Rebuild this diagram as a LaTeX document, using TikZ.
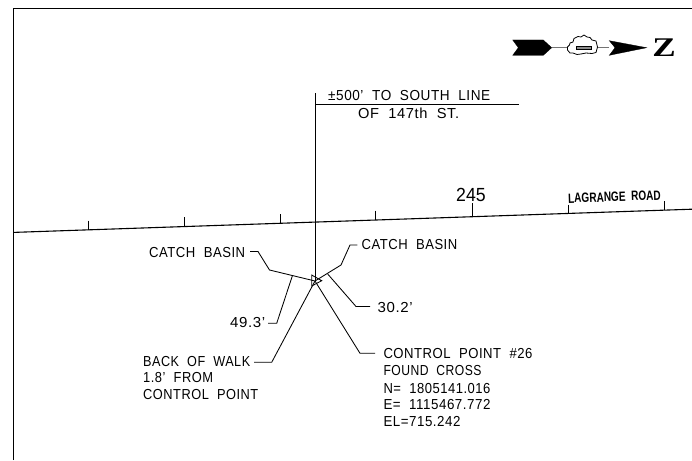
\documentclass[tikz,border=0pt]{standalone}
\usepackage{graphicx}
\usepackage{fontspec}
\setmainfont{Liberation Sans}[LetterSpace=4,WordSpace=2]
\newfontfamily\cadbold{Liberation Sans Bold}[WordSpace=2]
\newfontfamily\zfont{Liberation Serif Bold}
\newfontfamily\numfont{Liberation Sans}
\newcommand{\fitw}[2]{\resizebox{#1pt}{\height}{#2}}
\tikzset{
  cad/.style={font=\fontsize{14.5}{15}\selectfont,inner sep=0pt,anchor=west,text=black},
  ln/.style={draw=black,line width=1pt,line join=miter},
  thin ln/.style={draw=black,line width=0.85pt},
  solid fill/.style={fill=black,draw=black,line width=0.3pt}
}
\begin{document}
\begin{tikzpicture}[x=1pt,y=-1pt]
\useasboundingbox (0,0) rectangle (692,460);
% frame
\coordinate (fbl) at (13.5,460);
\coordinate (ftl) at (13.5,8.5);
\coordinate (ftr) at (692,8.5);
\draw[ln] (fbl) -- (ftl) -- (ftr);
% road
\coordinate (rl) at (13.5,232.4);
\coordinate (rr) at (692,209.2);
\draw[ln,line width=1.1pt] (rl) -- (rr);
\foreach \n/\x/\yt/\yb in {a/88/220.5/229.9,b/184/217/226.6,c/280/214/223.3,d/375/210.5/220,e/472/203/216.7,f/568/204.5/213.4,g/664/201/210.1}{
  \coordinate (t\n) at (\x,\yt);
  \coordinate (b\n) at (\x,\yb);
  \draw[thin ln] (t\n) -- (b\n);
}
% baseline reference
\coordinate (vtop) at (315.5,93);
\coordinate (vbot) at (315.5,281);
\coordinate (htl) at (315.5,104);
\coordinate (htr) at (519,104);
\draw[ln] (vtop) -- (vbot);
\draw[ln] (htl) -- (htr);
\node[cad] (s1) at (328,96) {\fitw{162}{±500' TO SOUTH LINE}};
\node[cad] (s2) at (358,113) {\fitw{101}{OF 147th ST.}};
\node[inner sep=0pt,anchor=west,font=\numfont\fontsize{19}{20}\selectfont] (sta) at (456,194.5) {\fitw{29.5}{245}};
\node[inner sep=0pt,anchor=west,rotate=2,font=\cadbold\fontsize{13.5}{14}\selectfont] (road) at (568,198.5) {\fitw{92.5}{LAGRANGE ROAD}};
% control point
\coordinate (cp) at (315,281);
\coordinate (t1) at (311.7,275);
\coordinate (t2) at (321.7,280.7);
\coordinate (t3) at (311.7,286);
\draw[thin ln] (t1) -- (t2) -- (t3) -- cycle;
% catch basin left
\node[cad] (cbl) at (149,253) {\fitw{96}{CATCH BASIN}};
\coordinate (l1) at (250,251.5);
\coordinate (l2) at (258,251.5);
\coordinate (l3) at (269.5,270);
\draw[thin ln] (l1) -- (l2) -- (l3) -- (cp);
% catch basin right
\node[cad] (cbr) at (361.5,245) {\fitw{95.6}{CATCH BASIN}};
\coordinate (r1) at (357.3,245);
\coordinate (r2) at (350,245);
\coordinate (r3) at (341,265);
\draw[thin ln] (r1) -- (r2) -- (r3) -- (cp);
% 49.3
\node[cad] (d49) at (230,323) {\fitw{35}{49.3'}};
\coordinate (d1) at (268,323.3);
\coordinate (d2) at (276.7,323.3);
\coordinate (d3) at (292.3,276);
\draw[thin ln] (d1) -- (d2) -- (d3);
% 30.2
\node[cad] (d30) at (377.5,307.3) {\fitw{35}{30.2'}};
\coordinate (e1) at (370,306.5);
\coordinate (e2) at (356,306.5);
\coordinate (e3) at (327.7,274);
\draw[thin ln] (e1) -- (e2) -- (e3);
% control point note
\node[cad] (c1) at (383.3,353.3) {\fitw{149}{CONTROL POINT \#26}};
\node[cad] (c2) at (383.3,371) {\fitw{98}{FOUND CROSS}};
\node[cad] (c3) at (383.3,388.3) {\fitw{107}{N= 1805141.016}};
\node[cad] (c4) at (383.3,405) {\fitw{107}{E= 1115467.772}};
\node[cad] (c5) at (383.3,421.7) {\fitw{77}{EL=715.242}};
\coordinate (f1) at (375,353.3);
\coordinate (f2) at (360,353.3);
\draw[thin ln] (f1) -- (f2) -- (cp);
% back of walk
\node[cad] (w1) at (143,361.5) {\fitw{107}{BACK OF WALK}};
\node[cad] (w2) at (143,378) {\fitw{70}{1.8' FROM}};
\node[cad] (w3) at (143,395) {\fitw{115}{CONTROL POINT}};
\coordinate (g1) at (254,362.3);
\coordinate (g2) at (271.7,362.3);
\draw[thin ln] (g1) -- (g2) -- (cp);
% north arrow
\coordinate (nl) at (551.7,47.7);
\coordinate (nr) at (609,47.7);
\draw[draw=black!55,line width=1.2pt] (nl) -- (nr);
\fill[solid fill] (512.7,40) -- (543.3,40) -- (551.7,47.7) -- (543.3,55.3) -- (512.7,55.3) -- (518.3,47.7) -- cycle;
\fill[solid fill] (609.3,40.7) -- (646.7,47.7) -- (609.3,55.3) -- (615,47.7) -- cycle;
\draw[fill=white,draw=black,line width=0.8pt] (567.5,47) -- (569.5,45) -- (570,43) -- (573,42) -- (574,38.5) -- (578,36.5) -- (581,37) -- (584,35) -- (587,37) -- (590,37.5) -- (592,40) -- (596,41) -- (597.5,47) -- (596,52.5) -- (592,53.5) -- (586,53) -- (581,54) -- (577,54.5) -- (573,53) -- (570,53) -- (567.5,50) -- cycle;
\draw[draw=black,fill=black!45,line width=0.6pt] (576,46) rectangle (591,49.3);
\node[inner sep=0pt,font=\zfont\fontsize{27}{27}\selectfont,xscale=1.3] (north) at (664,48) {Z};
\end{tikzpicture}
\end{document}
